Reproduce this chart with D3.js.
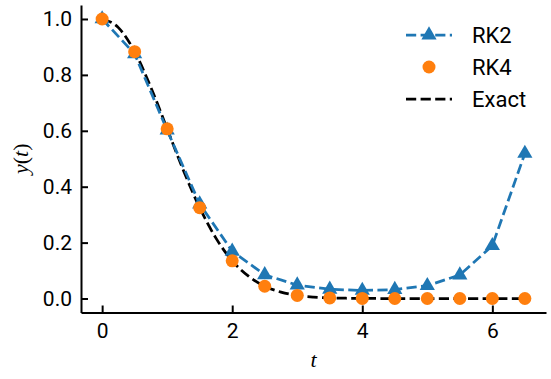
<!DOCTYPE html>
<html>
<head>
<meta charset="utf-8">
<script src="https://cdn.jsdelivr.net/npm/d3@7"></script>
<style>
  body { margin: 0; background: #fff; }
  svg { display: block; }
</style>
</head>
<body>
<div id="chart"></div>
<script>
// step points of the two solvers
let tSteps = [0, 0.5, 1, 1.5, 2, 2.5, 3, 3.5, 4, 4.5, 5, 5.5, 6, 6.5]
let rk2 = [1.0, 0.875, 0.602, 0.338, 0.169, 0.085, 0.048, 0.033, 0.029, 0.032, 0.046, 0.084, 0.189, 0.519]
let rk4 = [1.0, 0.883, 0.607, 0.325, 0.135, 0.044, 0.011, 0.002, 0.0003, 0, 0, 0, 0, 0]

// exact curve, read at finer spacing
let tExact = [0, 0.25, 0.5, 0.75, 1, 1.25, 1.5, 1.75, 2, 2.25, 2.5, 2.75, 3, 3.25, 3.5, 3.75, 4, 4.5, 5, 5.5, 6, 6.5]
let yExact = [1.0, 0.969, 0.883, 0.755, 0.607, 0.458, 0.325, 0.216, 0.135, 0.080, 0.044, 0.023, 0.011, 0.005, 0.002, 0.001, 0.0003, 0, 0, 0, 0, 0]

let xTicks = [0, 2, 4, 6]
let yTicks = [0.0, 0.2, 0.4, 0.6, 0.8, 1.0]

let width = 551, height = 379
let plotLeft = 81, plotRight = 546, plotTop = 5, plotBottom = 312.5

let blue = '#1f77b4', orange = '#ff7f0e'
let font = 'Roboto, "DejaVu Sans", sans-serif'
let mathFont = '"Liberation Serif", "DejaVu Serif", serif'

let svg = d3.select('#chart')
.append('svg')
.attr('width', width)
.attr('height', height)

let x = d3.scaleLinear().domain([-0.325, 6.825]).range([plotLeft, plotRight])
let y = d3.scaleLinear().domain([-0.05, 1.05]).range([plotBottom, plotTop])

// axes, ticks pointing inward
let xAxis = svg.append('g')
.attr('transform', `translate(0,${plotBottom})`)
.call(d3.axisBottom(x).tickValues(xTicks).tickSizeInner(-7).tickSizeOuter(0).tickPadding(11).tickFormat(d3.format('d')))

let yAxis = svg.append('g')
.attr('transform', `translate(${plotLeft},0)`)
.call(d3.axisLeft(y).tickValues(yTicks).tickSizeInner(-7).tickSizeOuter(0).tickPadding(9).tickFormat(d3.format('.1f')))

for (let ax of [xAxis, yAxis]) {
	ax.select('.domain').attr('stroke', '#000').attr('stroke-width', 2)
	ax.selectAll('.tick line').attr('stroke', '#000').attr('stroke-width', 2)
	ax.selectAll('.tick text').attr('fill', '#000').style('font-family', font).style('font-size', '21px')
}
xAxis.selectAll('.tick text').attr('dy', '0.71em')

// axis labels
svg.append('text')
.attr('x', x(3.25))
.attr('y', 367)
.attr('text-anchor', 'middle')
.style('font-family', mathFont)
.style('font-style', 'italic')
.style('font-size', '22px')
.text('t')

svg.append('text')
.attr('transform', `translate(28,${y(0.5)}) rotate(-90)`)
.attr('text-anchor', 'middle')
.style('font-family', mathFont)
.style('font-size', '22px')
.html('<tspan font-style="italic">y</tspan>(<tspan font-style="italic">t</tspan>)')

let lw = 2.75
let dash = '10.2,4.4'

// exact
let exactData = tExact.map((t, i) => [t, yExact[i]])
svg.append('path')
.datum(exactData)
.attr('fill', 'none')
.attr('stroke', '#000')
.attr('stroke-width', lw)
.attr('stroke-dasharray', dash)
.attr('d', d3.line().x(d => x(d[0])).y(d => y(d[1])).curve(d3.curveMonotoneX))

// RK2
let rk2Data = tSteps.map((t, i) => [t, rk2[i]])
svg.append('path')
.datum(rk2Data)
.attr('fill', 'none')
.attr('stroke', blue)
.attr('stroke-width', lw)
.attr('stroke-dasharray', dash)
.attr('d', d3.line().x(d => x(d[0])).y(d => y(d[1])))

let tri = d3.symbol().type(d3.symbolTriangle).size(100)

svg.append('g')
.selectAll('path')
.data(rk2Data)
.join('path')
.attr('transform', d => `translate(${x(d[0])},${y(d[1])})`)
.attr('d', tri)
.attr('fill', blue)

// RK4
let rk4Data = tSteps.map((t, i) => [t, rk4[i]])
svg.append('g')
.selectAll('circle')
.data(rk4Data)
.join('circle')
.attr('cx', d => x(d[0]))
.attr('cy', d => y(d[1]))
.attr('r', 6.5)
.attr('fill', orange)

// legend
let legend = svg.append('g')
let rows = [
	{ name: 'RK2', cy: 35 },
	{ name: 'RK4', cy: 67 },
	{ name: 'Exact', cy: 99 }
]

legend.append('line')
.attr('x1', 406).attr('x2', 452).attr('y1', 35).attr('y2', 35)
.attr('stroke', blue).attr('stroke-width', lw).attr('stroke-dasharray', dash)
legend.append('path')
.attr('transform', 'translate(429,35)')
.attr('d', tri)
.attr('fill', blue)

legend.append('circle')
.attr('cx', 429).attr('cy', 67).attr('r', 6.5)
.attr('fill', orange)

legend.append('line')
.attr('x1', 406).attr('x2', 452).attr('y1', 99).attr('y2', 99)
.attr('stroke', '#000').attr('stroke-width', lw).attr('stroke-dasharray', dash)

legend.selectAll('text')
.data(rows)
.join('text')
.attr('x', 472)
.attr('y', d => d.cy)
.attr('dy', '0.36em')
.style('font-family', font)
.style('font-size', '22px')
.text(d => d.name)
</script>
</body>
</html>
